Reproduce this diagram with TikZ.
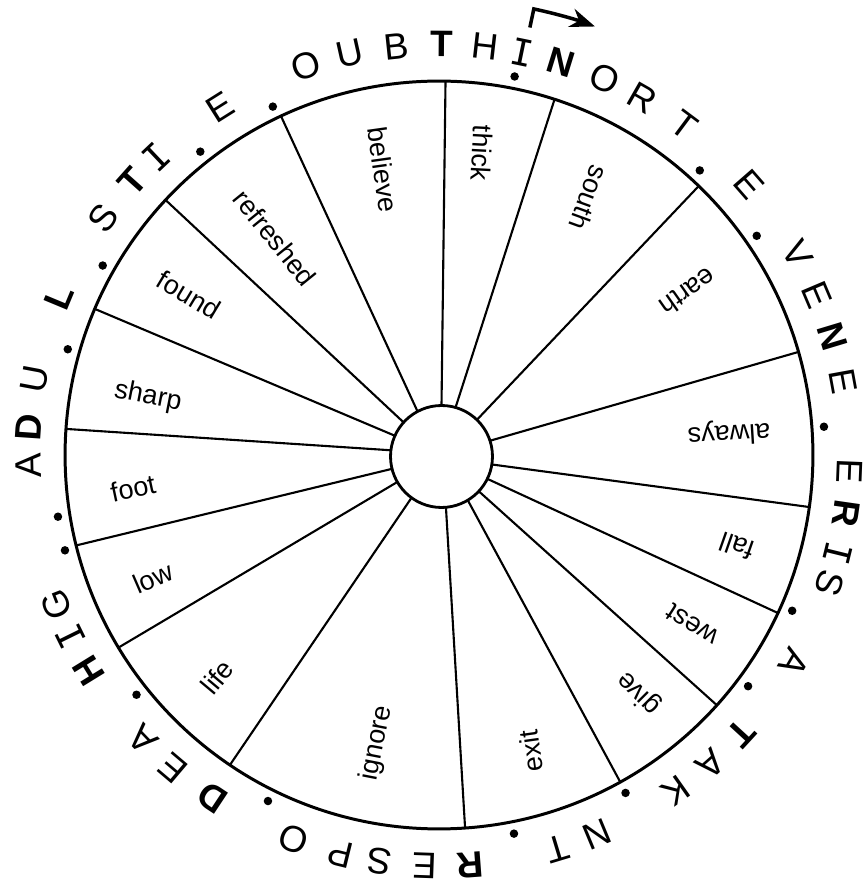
\documentclass[tikz,border=0pt]{standalone}
\usepackage{fontspec}
\setmainfont{Liberation Sans}
\newfontfamily\monoI{DejaVu Sans Mono}
\usetikzlibrary{arrows.meta}

\newcommand{\Iserif}{{\monoI I}}

\tikzset{
    parola/.style={font=\fontsize{15.4}{18}\selectfont, inner sep=0pt},
    lettera/.style={font=\fontsize{21}{21}\selectfont, inner sep=0pt},
    punto/.style={circle, fill, inner sep=0pt, minimum size=0.17cm},
    raggio/.style={line width=1.2pt}
}

\begin{document}
\begin{tikzpicture}[
    x=0.02cm, y=0.02cm,
    line cap=round,
    line join=round
]
\useasboundingbox (-439,-436) rectangle (428,455);

% Cerchio esterno e mozzo
\node[circle, draw, line width=1.7pt, outer sep=0pt, minimum size=14.96cm] (ruota) at (0,0) {};
\node[circle, draw, line width=1.6pt, outer sep=0pt, minimum size=2.04cm] (mozzo) at (2.5,-1.5) {};

% Raggi
\foreach \a/\b in {89.4/90, 72.4/74.8, 46.9/46, 16.5/18, 352/351.6, 335.7/334.4,
    318/317.3, 299.4/301, 274.4/275, 236.5/234, 211.9/210, 194.4/194,
    176/173.5, 157.7/156.5, 137.6/138.6, 115.9/118.4}
    \draw[raggio] (ruota.\a) -- (mozzo.\b);

% Parole nei settori
\node[parola, rotate=-82] (believe) at (-56,285) {believe};
\node[parola, rotate=-93] (thick) at (43,302) {thick};
\node[parola, rotate=-110] (south) at (150,257) {south};
\node[parola, rotate=215] (earth) at (249,163) {earth};
\node[parola, rotate=183.5] (always) at (290,22) {always};
\node[parola, rotate=160.6] (fall) at (298,-91) {fall};
\node[parola, rotate=147.4] (west) at (253,-170) {west};
\node[parola, rotate=135] (give) at (200,-238) {give};
\node[parola, rotate=98] (exit) at (92,-296) {exit};
\node[parola, rotate=79] (ignore) at (-62,-288) {ignore};
\node[parola, rotate=50] (life) at (-222,-222) {life};
\node[parola, rotate=23.5] (low) at (-286,-123) {low};
\node[parola, rotate=12] (foot) at (-306,-33) {foot};
\node[parola, rotate=-11] (sharp) at (-291,58) {sharp};
\node[parola, rotate=-31] (found) at (-250,160) {found};
\node[parola, rotate=-51] (refreshed) at (-164,217) {refreshed};

% Lettere sul bordo
\foreach \ang/\ch [count=\k] in {122.2/E, 133.5/\Iserif, 138.3/\bfseries T, 144.8/S,
    157.4/\bfseries L, 169.4/U, 176.1/\bfseries D, 181.4/A, 201.3/G, 206.2/\Iserif,
    211.6/\bfseries H, 223.8/A, 229.7/E, 236.5/\bfseries D, 249.3/O, 256.2/P,
    261.7/S, 268/E, 274.3/\bfseries R, 286.8/T, 292.6/N, 305.2/K, 311.3/A,
    317.4/\bfseries T, 329.7/A, 341.8/S, 346.2/\Iserif, 351.8/\bfseries R, 357.7/E,
    10.4/E, 16.8/\bfseries N, 23/E, 29.2/V, 41.1/E, 53.3/T, 60.3/R, 66.2/O,
    72.8/\bfseries N, 78.4/\Iserif, 83.5/H, 89.6/\bfseries T, 96/B, 102.5/U, 108.9/O}
    \node[lettera, rotate=\ang-90] (lettera\k) at (\ang:411) {\ch};

% Punti
\foreach \ang [count=\k] in {128.2, 150.6, 164.1, 189.2, 194.3, 218.4, 243.7, 281.2,
    298.9, 323.2, 336.2, 4.2, 34.6, 47.5, 78.7, 115.5}
    \node[punto] (punto\k) at (\ang:386) {};

% Freccia di partenza
\coordinate (avvio) at (78:437);
\coordinate (gomito) at (78:456);
\draw[line width=2pt, line cap=butt, line join=miter, -{Stealth[length=0.5cm, width=0.38cm]}]
    (avvio) -- (gomito) arc[start angle=78, end angle=70, radius=9.12cm];

\end{tikzpicture}
\end{document}
